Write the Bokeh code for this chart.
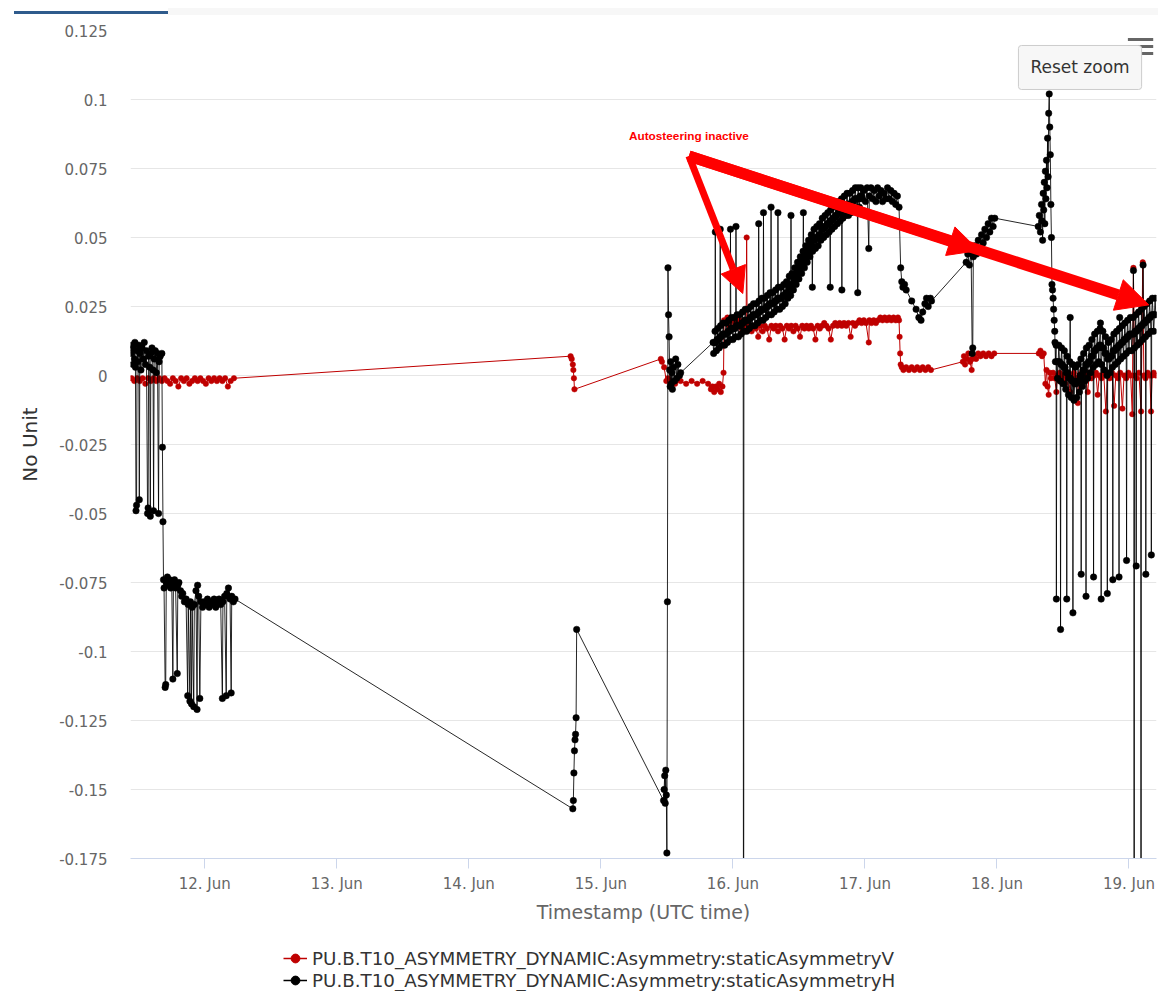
import pandas as pd
from bokeh.plotting import figure
from bokeh.models import (Range1d, DaysTicker, DatetimeTickFormatter, FixedTicker,
                          CustomJSTickFormatter, Legend, LegendItem, Label, Arrow,
                          NormalHead, BoxAnnotation, Div, ColumnDataSource)
from bokeh.layouts import column
from bokeh.embed import file_html
from bokeh.resources import INLINE

# ---------------------------------------------------------------- data
# time = hours since 11 Jun 00:00 UTC, value in units of 1e-3
START_DATE = "2021-06-11"

# staticAsymmetryH (black)
H_SEG_A = [(10.6, 8), (10.8, 11), (10.9, 4), (11.0, 10), (11.2, 6), (11.3, 12), (11.4, 3), (11.5, -49),
           (11.6, -47), (11.7, 9), (11.8, 5), (12.0, 11), (12.1, -45), (12.2, 8), (12.4, 2), (12.6, 10),
           (12.8, 6), (13.0, 12), (13.2, 4), (13.4, 9), (13.6, -50), (13.7, -48), (13.8, 7), (14.0, 3),
           (14.1, -51), (14.2, 8), (14.4, 10), (14.6, 2), (14.7, -49), (14.8, 6), (15.0, 9), (15.2, 1),
           (15.4, 8), (15.6, -50), (15.7, 5), (15.9, 7), (16.2, 8), (16.3, -26), (16.4, -53)]
H_SEG_B = [(16.5, -74), (16.6, -77), (16.8, -113), (16.9, -112), (17.0, -75), (17.2, -73), (17.4, -76),
           (17.6, -74), (17.8, -77), (18.0, -75), (18.2, -110), (18.3, -76), (18.5, -74), (18.7, -77),
           (19.0, -108), (19.1, -76), (19.3, -75), (19.6, -78), (19.8, -80), (20.0, -79), (20.3, -82),
           (20.6, -81), (20.9, -116), (21.0, -83), (21.3, -118), (21.4, -82), (21.6, -119), (21.7, -84),
           (22.0, -120), (22.1, -83), (22.4, -78), (22.6, -121), (22.7, -76), (22.9, -80), (23.1, -117),
           (23.3, -82), (23.6, -84), (23.9, -82), (24.2, -83), (24.5, -81), (24.8, -84), (25.1, -82),
           (25.4, -83), (25.7, -81), (26.0, -84), (26.3, -82), (26.6, -81), (26.9, -83), (27.2, -117),
           (27.3, -82), (27.6, -80), (27.9, -116), (28.0, -79), (28.3, -77), (28.6, -81), (28.8, -115),
           (28.9, -80), (29.2, -82), (29.5, -81)]
H_SEG_C = [(90.9, -157), (91.0, -154), (91.1, -144), (91.2, -136), (91.3, -132), (91.4, -130),
           (91.5, -124), (91.6, -92)]
H_SEG_D = [(107.4, -154), (107.5, -150), (107.6, -145), (107.7, -155), (107.8, -143), (107.9, -152),
           (108.0, -173), (108.1, -82), (108.2, 39), (108.3, 22), (108.4, 14), (108.5, 2), (108.6, -4),
           (108.7, 5), (108.8, -3), (108.9, 1), (109.0, -5), (109.2, 3), (109.4, -2), (109.6, 6),
           (109.8, -1), (110.0, 4), (110.3, 0), (110.5, 1)]
H_SEG_E = [(116.4, 12),
           (116.5, 8), (116.625, 12), (116.75, 16), (116.8, 52), (116.875, 12),
           (117.0, 9), (117.125, 13), (117.25, 17), (117.375, 13),
           (117.5, 10), (117.625, 14), (117.7, 53), (117.75, 18), (117.875, 14),
           (118.0, 11), (118.125, 15), (118.25, 19), (118.375, 15),
           (118.5, 11), (118.625, 15), (118.75, 19), (118.875, 15),
           (119.0, 12), (119.125, 16), (119.25, 20), (119.375, 16),
           (119.5, 13), (119.56, 53), (119.625, 17), (119.75, 21), (119.875, 17),
           (120.0, 13), (120.125, 17), (120.25, 21), (120.375, 17),
           (120.5, 14), (120.56, 54), (120.625, 18), (120.75, 22), (120.875, 18),
           (121.0, 14), (121.125, 18), (121.25, 22), (121.375, 18),
           (121.5, 15), (121.625, 19), (121.75, 23), (121.875, 19), (121.94, -330),
           (122.0, 16), (122.125, 20), (122.25, 24), (122.375, 20),
           (122.5, 16), (122.625, 20), (122.75, 24), (122.875, 20),
           (123.0, 17), (123.125, 21), (123.25, 25), (123.375, 21),
           (123.5, 18), (123.625, 22), (123.75, 26), (123.875, 22),
           (124.0, 18), (124.125, 22), (124.25, 26), (124.375, 22),
           (124.5, 19), (124.625, 23), (124.69, 55), (124.75, 27), (124.875, 23),
           (125.0, 20), (125.125, 24), (125.25, 28), (125.375, 24),
           (125.5, 20), (125.56, 59), (125.625, 24), (125.75, 28), (125.875, 24),
           (126.0, 21), (126.125, 25), (126.25, 29), (126.375, 25),
           (126.5, 22), (126.625, 26), (126.75, 30), (126.875, 26), (126.94, 61),
           (127.0, 22), (127.125, 26), (127.25, 30), (127.375, 26),
           (127.5, 23), (127.625, 27), (127.75, 31), (127.875, 27),
           (128.0, 24), (128.125, 28), (128.19, 59), (128.25, 32), (128.375, 28),
           (128.5, 24), (128.625, 28), (128.75, 32), (128.875, 28),
           (129.0, 25), (129.125, 29), (129.25, 33), (129.375, 29),
           (129.5, 26), (129.625, 30), (129.75, 34), (129.875, 30),
           (130.0, 28), (130.125, 32), (130.25, 36), (130.375, 32),
           (130.5, 29), (130.56, 58), (130.625, 33), (130.75, 37), (130.875, 33),
           (131.0, 31), (131.125, 35), (131.25, 39), (131.375, 35),
           (131.5, 33), (131.625, 37), (131.75, 41), (131.875, 37),
           (132.0, 35), (132.125, 39), (132.25, 43), (132.375, 39),
           (132.5, 37), (132.625, 41), (132.75, 45), (132.81, 59), (132.875, 41),
           (133.0, 39), (133.125, 43), (133.25, 47), (133.375, 43),
           (133.5, 41), (133.625, 45), (133.75, 49), (133.875, 45),
           (134.0, 43), (134.125, 47), (134.25, 51), (134.375, 47), (134.44, 32),
           (134.5, 45), (134.625, 49), (134.75, 53), (134.875, 49),
           (135.0, 46), (135.125, 50), (135.25, 54), (135.375, 50),
           (135.5, 47), (135.625, 51), (135.75, 55), (135.875, 51),
           (136.0, 49), (136.125, 53), (136.25, 57), (136.375, 53),
           (136.5, 50), (136.625, 54), (136.75, 58), (136.875, 54),
           (137.0, 51), (137.125, 55), (137.25, 59), (137.375, 55),
           (137.5, 52), (137.625, 56), (137.69, 32), (137.75, 60), (137.875, 56),
           (138.0, 53), (138.125, 57), (138.25, 61), (138.375, 57),
           (138.5, 54), (138.625, 58), (138.75, 62), (138.875, 58),
           (139.0, 55), (139.125, 59), (139.25, 63), (139.375, 59),
           (139.5, 56), (139.625, 60), (139.75, 64), (139.81, 31), (139.875, 60),
           (140.0, 57), (140.125, 61), (140.25, 65), (140.375, 61),
           (140.5, 58), (140.625, 62), (140.75, 66), (140.875, 62),
           (141.0, 58), (141.125, 62), (141.25, 66), (141.375, 62),
           (141.5, 59), (141.625, 63), (141.75, 67), (141.875, 63),
           (142.0, 60), (142.125, 64), (142.25, 68), (142.375, 64),
           (142.5, 60), (142.625, 64), (142.69, 30), (142.75, 68), (142.875, 64),
           (143.0, 61), (143.125, 65), (143.25, 68), (143.375, 65)]
H_SEG_F = [(143.5, 64), (143.8, 67), (144.1, 63), (144.4, 68), (144.7, 46), (144.8, 65), (145.1, 68),
           (145.4, 64), (145.7, 67), (146.0, 63), (146.3, 68), (146.6, 65), (146.9, 67), (147.2, 63),
           (147.5, 66), (147.8, 64), (148.1, 68), (148.4, 64), (148.7, 67), (149.0, 63), (149.3, 66),
           (149.6, 62), (149.9, 65), (150.2, 61), (150.5, 39), (150.7, 34), (150.9, 32), (151.2, 33),
           (151.5, 31), (152.5, 27), (153.3, 24), (153.8, 21), (154.2, 20), (154.5, 23), (154.9, 26),
           (155.2, 28), (155.5, 25), (155.9, 28), (156.1, 27)]
H_SEG_G = [(162.4, 41), (162.7, 44), (163.0, 40), (163.3, 45), (163.5, 8), (163.6, 10), (163.7, 43),
           (164.0, 47), (164.3, 44), (164.6, 49), (164.9, 46), (165.2, 51), (165.5, 48), (165.8, 53),
           (166.1, 50), (166.4, 55), (166.7, 52), (167.0, 57), (167.3, 54), (167.6, 57)]
H_SEG_H = [(175.5, 54), (175.7, 58), (175.9, 52), (176.1, 62), (176.2, 56), (176.3, 49), (176.4, 66),
           (176.5, 60), (176.6, 70), (176.7, 55), (176.8, 74), (176.9, 64), (177.0, 78), (177.1, 68),
           (177.2, 86), (177.3, 72), (177.4, 95), (177.5, 102), (177.6, 90), (177.7, 80), (177.8, 62),
           (177.9, 50), (178.0, 33), (178.1, 31), (178.2, 28), (178.3, 24), (178.4, 20), (178.5, 16),
           (178.55, 12)]
H_SEG_I = [(178.625, 5), (178.75, 11), (178.8, -81), (178.875, 5),
           (179.0, -1), (179.125, 5), (179.25, 11), (179.375, 5),
           (179.5, -2), (179.56, -92), (179.625, 4), (179.75, 10), (179.875, 4),
           (180.0, -3), (180.125, 3), (180.25, 9), (180.375, 3),
           (180.5, -5), (180.625, 1), (180.69, -81), (180.75, 7), (180.875, 1),
           (181.0, -7), (181.125, -1), (181.25, 5), (181.31, 21), (181.375, -1),
           (181.5, -8), (181.625, -2), (181.75, 4), (181.81, -86), (181.875, -2),
           (182.0, -9), (182.125, -3), (182.25, 3), (182.375, -3),
           (182.5, -8), (182.625, -2), (182.75, 4), (182.875, -2),
           (183.0, -6), (183.125, 0), (183.25, 6), (183.31, -72), (183.375, 0),
           (183.5, -4), (183.625, 2), (183.75, 8), (183.875, 2),
           (184.0, -2), (184.125, 4), (184.19, -80), (184.25, 10), (184.375, 4),
           (184.5, -1), (184.625, 5), (184.75, 11), (184.875, 5),
           (185.0, 1), (185.125, 7), (185.25, 13), (185.375, 7),
           (185.5, 3), (185.56, -73), (185.625, 9), (185.75, 15), (185.875, 9),
           (186.0, 4), (186.125, 10), (186.25, 16), (186.375, 10),
           (186.5, 5), (186.625, 11), (186.75, 17), (186.81, 19), (186.875, 11), (186.94, -81),
           (187.0, 4), (187.125, 10), (187.25, 16), (187.375, 10),
           (187.5, 2), (187.625, 8), (187.75, 14), (187.875, 8),
           (188.0, 0), (188.06, -79), (188.125, 6), (188.25, 12), (188.375, 6),
           (188.5, 1), (188.625, 7), (188.75, 13), (188.875, 7),
           (189.0, 3), (189.06, -74), (189.125, 9), (189.25, 15), (189.375, 9),
           (189.5, 4), (189.625, 10), (189.75, 16), (189.875, 10),
           (190.0, 5), (190.125, 11), (190.19, -73), (190.25, 17), (190.31, 21), (190.375, 11),
           (190.5, 6), (190.625, 12), (190.75, 18), (190.875, 12),
           (191.0, 7), (191.125, 13), (191.25, 19), (191.375, 13),
           (191.5, 8), (191.56, -67), (191.625, 14), (191.75, 20), (191.875, 14),
           (192.0, 9), (192.125, 15), (192.25, 21), (192.375, 15),
           (192.5, 9), (192.625, 15), (192.75, 21), (192.81, 38), (192.875, 15), (192.94, -400),
           (193.0, 10), (193.125, 16), (193.25, 22), (193.31, -69), (193.375, 16),
           (193.5, 11), (193.625, 17), (193.75, 23), (193.875, 17),
           (194.0, 12), (194.125, 18), (194.19, -400), (194.25, 24), (194.375, 18),
           (194.5, 13), (194.56, 40), (194.625, 19), (194.75, 25), (194.875, 19),
           (195.0, 14), (195.06, -72), (195.125, 20), (195.25, 26), (195.375, 20),
           (195.5, 15), (195.625, 21), (195.75, 27), (195.875, 21),
           (196.0, 16), (196.06, -65), (196.125, 22), (196.25, 28), (196.375, 22),
           (196.5, 16), (196.625, 22), (196.75, 28), (196.875, 22)]

# staticAsymmetryV (red)
V_SEG_A = [(10.7, -1), (11.2, -2), (11.7, -1), (12.2, -2), (12.7, -1), (13.2, -3), (13.7, -1), (14.2, -2),
           (14.7, -1), (15.2, -2), (15.7, -1), (16.2, -2), (16.7, -1), (17.2, -2), (17.7, -3), (18.2, -1),
           (18.7, -2), (19.2, -4), (19.7, -1), (20.2, -2), (20.7, -1), (21.2, -3), (21.7, -2), (22.2, -1),
           (22.7, -2), (23.2, -1), (23.7, -2), (24.2, -3), (24.7, -1), (25.2, -2), (25.7, -1), (26.2, -2),
           (26.7, -1), (27.2, -2), (27.7, -1), (28.2, -4), (28.7, -2), (29.3, -1)]
V_SEG_B = [(90.5, 7), (90.7, 6), (90.9, 4), (91.0, 2), (91.1, -1), (91.2, -5)]
V_SEG_C = [(106.9, 6), (107.1, 5), (107.5, 3), (107.9, -2), (108.2, -1), (108.5, -2), (109.5, -3),
           (110.5, -2), (111.5, -3), (112.5, -2), (113.5, -3), (114.5, -2), (115.5, -3), (116.0, -5),
           (116.3, -4), (116.6, -6), (116.9, -4), (117.2, -5), (117.5, -3), (117.8, -6), (118.1, -4),
           (118.3, 1), (118.4, 20)]
V_SEG_D = [(118.7, 19), (119.0, 21), (119.3, 18), (119.7, 20), (120.0, 17), (120.4, 19), (120.8, 18),
           (121.2, 20), (121.6, 17), (122.0, 19), (122.4, 18), (122.5, 50), (122.6, 17), (123.0, 18),
           (123.4, 16), (123.8, 18), (124.2, 17), (124.6, 14), (125.0, 18), (125.4, 16), (125.8, 18),
           (126.2, 17), (126.6, 13), (127.0, 18), (127.4, 17), (127.8, 18), (128.2, 16), (128.6, 18),
           (129.0, 17), (129.4, 13), (129.8, 18), (130.2, 17), (130.6, 18), (131.0, 16), (131.4, 18),
           (131.8, 17), (132.2, 14), (132.6, 18), (133.0, 17), (133.4, 18), (133.8, 17), (134.2, 18),
           (134.6, 17), (135.0, 13), (135.4, 18), (135.8, 17), (136.2, 18), (136.6, 19), (137.0, 18),
           (137.4, 17), (137.8, 13), (138.2, 18), (138.6, 19), (139.0, 18), (139.4, 19), (139.8, 18),
           (140.2, 19), (140.6, 18), (141.0, 19), (141.4, 14), (141.8, 19), (142.2, 18), (142.6, 19),
           (143.0, 20), (143.4, 19), (143.8, 20), (144.2, 19), (144.7, 12), (144.8, 20), (145.2, 19),
           (145.6, 20), (146.0, 19), (146.4, 20), (146.8, 21), (147.2, 20), (147.6, 21), (148.0, 20),
           (148.4, 21), (148.8, 20), (149.2, 21), (149.6, 20), (150.0, 21), (150.2, 20)]
V_SEG_E = [(150.3, 14), (150.4, 8), (150.5, 4), (150.7, 3), (151.0, 2), (151.5, 3), (152.0, 2),
           (152.5, 3), (153.0, 2), (153.5, 3), (154.0, 2), (154.5, 3), (155.0, 2), (155.5, 3), (156.0, 2)]
V_SEG_F = [(161.8, 5), (162.0, 7), (162.2, 4), (162.5, 6), (162.8, 8), (163.1, 5), (163.4, 2), (163.5, 6),
           (163.8, 7), (164.2, 6), (164.6, 8), (165.0, 7), (165.5, 8), (166.0, 7), (166.5, 8), (167.0, 7),
           (167.5, 8)]
V_SEG_G = [(175.6, 8), (175.9, 9), (176.2, 7), (176.5, 8), (176.8, -3), (177.0, 2), (177.2, -4),
           (177.4, -7), (177.6, 1), (177.8, -1)]
V_SEG_H = [(178.2, 1), (178.5, -1), (178.8, -6), (179.0, 0), (179.4, 1), (179.8, -1), (180.1, 0),
           (180.4, -3), (180.7, 1), (181.0, -1), (181.3, -6), (181.6, 0), (182.0, 1), (182.4, -1),
           (182.7, -10), (183.0, 0), (183.4, 1), (183.8, -1), (184.1, 0), (184.5, -6), (184.8, 1),
           (185.2, -1), (185.6, 0), (186.0, 1), (186.3, -7), (186.6, 0), (187.0, -1), (187.4, 1),
           (187.8, -13), (188.1, 0), (188.5, -1), (188.9, 1), (189.3, -11), (189.6, 0), (190.0, -1),
           (190.4, 1), (190.8, -12), (191.1, 0), (191.5, -1), (191.9, 1), (192.3, 0), (192.6, -14),
           (192.8, 39), (193.0, 0), (193.4, -1), (193.8, 1), (194.2, -13), (194.5, 41), (194.7, 0),
           (195.0, -1), (195.4, 1), (195.8, 0), (196.0, -13), (196.2, 0), (196.5, 1), (196.9, 0)]

SERIES_V_NAME = "PU.B.T10_ASYMMETRY_DYNAMIC:Asymmetry:staticAsymmetryV"
SERIES_H_NAME = "PU.B.T10_ASYMMETRY_DYNAMIC:Asymmetry:staticAsymmetryH"
Y_TICKS = [-0.175, -0.15, -0.125, -0.1, -0.075, -0.05, -0.025, 0.0, 0.025, 0.05, 0.075, 0.1, 0.125]
X_START_H, X_END_H = 10.5, 197.0
Y_MIN, Y_MAX = -0.175, 0.125

ANNOTATION_TEXT = "Autosteering inactive"
ANNOTATION_POS = (112.0, 0.0866)
# arrows: (start hour, start value, end hour, end value, line width, head size)
ARROWS = [(112.0, 0.0795, 121.8, 0.0297, 7, 26),
          (112.0, 0.0795, 164.7, 0.0453, 11, 30),
          (112.0, 0.0795, 195.6, 0.0256, 11, 32)]

RED = "#bf0000"
BLACK = "#000000"
FONT = "DejaVu Sans"

# ---------------------------------------------------------------- helpers
base_ms = pd.Timestamp(START_DATE, tz="UTC").value / 1e6


def t(h):
    return base_ms + h * 3600000.0


def make_source(segments):
    pts = [pt for seg in segments for pt in seg]
    return ColumnDataSource(dict(x=[t(h) for h, _ in pts], y=[v / 1000.0 for _, v in pts]))


src_h = make_source([H_SEG_A, H_SEG_B, H_SEG_C, H_SEG_D, H_SEG_E, H_SEG_F, H_SEG_G, H_SEG_H, H_SEG_I])
src_v = make_source([V_SEG_A, V_SEG_B, V_SEG_C, V_SEG_D, V_SEG_E, V_SEG_F, V_SEG_G, V_SEG_H])

# ---------------------------------------------------------------- main figure
p = figure(width=1158, height=919, x_axis_type="datetime", output_backend="svg",
           toolbar_location=None,
           x_range=Range1d(t(X_START_H), t(X_END_H)), y_range=Range1d(Y_MIN, Y_MAX),
           min_border_left=130, min_border_right=2, min_border_top=14, min_border_bottom=77)
p.outline_line_color = None
p.background_fill_color = "white"
p.border_fill_color = "white"
p.xgrid.grid_line_color = None
p.ygrid.grid_line_color = "#e6e6e6"
p.ygrid.grid_line_width = 1

# x axis
p.xaxis.ticker = DaysTicker(days=list(range(1, 32)))
p.xaxis.formatter = DatetimeTickFormatter(days="%d. %b", months="%d. %b", hours="%d. %b")
p.xaxis.axis_line_color = "#ccd6eb"
p.xaxis.major_tick_line_color = "#ccd6eb"
p.xaxis.major_tick_out = 10
p.xaxis.major_tick_in = 0
p.xaxis.minor_tick_line_color = None
p.xaxis.major_label_standoff = 6
p.xaxis.major_label_text_font = FONT
p.xaxis.major_label_text_font_size = "15px"
p.xaxis.major_label_text_color = "#666666"
p.xaxis.axis_label = "Timestamp (UTC time)"
p.xaxis.axis_label_text_font = FONT
p.xaxis.axis_label_text_font_size = "19px"
p.xaxis.axis_label_text_font_style = "normal"
p.xaxis.axis_label_text_color = "#666666"
p.xaxis.axis_label_standoff = 5

# y axis
p.yaxis.ticker = FixedTicker(ticks=Y_TICKS)
p.yaxis.formatter = CustomJSTickFormatter(code="""
    let s = tick.toFixed(3).replace(/0+$/, '').replace(/\\.$/, '');
    if (s === '-0') { s = '0'; }
    return s;
""")
p.yaxis.axis_line_color = None
p.yaxis.major_tick_line_color = None
p.yaxis.minor_tick_line_color = None
p.yaxis.major_label_standoff = 17
p.yaxis.major_label_text_font = FONT
p.yaxis.major_label_text_font_size = "15px"
p.yaxis.major_label_text_color = "#666666"
p.yaxis.axis_label = "No Unit"
p.yaxis.axis_label_text_font = FONT
p.yaxis.axis_label_text_font_size = "20px"
p.yaxis.axis_label_text_font_style = "normal"
p.yaxis.axis_label_text_color = "#333333"
p.yaxis.axis_label_standoff = 14

# series
p.line("x", "y", source=src_v, line_color=RED, line_width=1)
p.scatter("x", "y", source=src_v, marker="circle", size=5.5,
          fill_color=RED, line_color=RED, line_width=0.5)
p.line("x", "y", source=src_h, line_color=BLACK, line_width=1, line_alpha=0.85)
p.scatter("x", "y", source=src_h, marker="circle", size=6.5,
          fill_color=BLACK, line_color=BLACK, line_width=0.5)

# annotation arrows and text
for h0, v0, h1, v1, w, hs in ARROWS:
    p.add_layout(Arrow(x_start=t(h0), y_start=v0, x_end=t(h1), y_end=v1,
                       line_color="#ff0000", line_width=w,
                       end=NormalHead(size=hs, fill_color="#ff0000", line_color="#ff0000",
                                      line_width=1)))
p.add_layout(Label(x=t(ANNOTATION_POS[0]), y=ANNOTATION_POS[1], text=ANNOTATION_TEXT,
                   text_align="center", text_baseline="middle", text_color="#ff0000",
                   text_font="Liberation Sans", text_font_size="11.8px", text_font_style="bold"))

# context-menu icon (three bars) and "Reset zoom" button
for yc in (0.12174, 0.11920, 0.11667):
    p.add_layout(BoxAnnotation(left=t(191.8), right=t(196.4), bottom=yc - 0.00055, top=yc + 0.00055,
                               fill_color="#666666", fill_alpha=1, line_color=None))
p.add_layout(Label(x=t(183.1), y=0.1116, text="Reset zoom", text_align="center",
                   text_baseline="middle", text_color="#333333", text_font=FONT,
                   text_font_size="17px", background_fill_color="#f7f7f7",
                   border_line_color="#cccccc", border_line_width=1, padding=12, border_radius=3))

# ---------------------------------------------------------------- legend strip
lg = figure(width=1158, height=56, output_backend="svg", toolbar_location=None,
            x_axis_type=None, y_axis_type=None,
            x_range=Range1d(0, 1), y_range=Range1d(0, 1),
            min_border_left=0, min_border_right=0, min_border_top=0, min_border_bottom=0)
lg.grid.visible = False
lg.outline_line_color = None
lg.border_fill_color = "white"
kv_line = lg.line(x=[-5, -4], y=[-5, -5], line_color=RED, line_width=1.5)
kv_pts = lg.scatter(x=[-5], y=[-5], marker="circle", size=7, fill_color=RED, line_color=RED)
kh_line = lg.line(x=[-5, -4], y=[-5, -5], line_color=BLACK, line_width=1.5)
kh_pts = lg.scatter(x=[-5], y=[-5], marker="circle", size=7, fill_color=BLACK, line_color=BLACK)
# the column aligns this strip's frame with the chart frame (left edge at x=130)
legend = Legend(items=[LegendItem(label=SERIES_V_NAME, renderers=[kv_line, kv_pts]),
                       LegendItem(label=SERIES_H_NAME, renderers=[kh_line, kh_pts])],
                location=(153, 0), orientation="vertical", border_line_color=None,
                background_fill_alpha=0, padding=0, margin=0, spacing=0,
                glyph_width=24, glyph_height=22, label_height=22, label_standoff=5,
                label_text_font=FONT, label_text_font_size="18.3px", label_text_color="#333333")
lg.add_layout(legend, "center")

# top tab strip
bar = Div(text=('<div style="position:relative;width:1158px;height:16px;">'
                '<div style="position:absolute;left:168px;top:8px;width:990px;height:7px;background:#f7f7f7;"></div>'
                '<div style="position:absolute;left:14px;top:11px;width:154px;height:3px;background:#2f5b8c;"></div>'
                '</div>'),
          width=1158, height=16, margin=0)

layout = column(bar, p, lg, spacing=0)
open("out.html", "w").write(file_html(layout, INLINE))
